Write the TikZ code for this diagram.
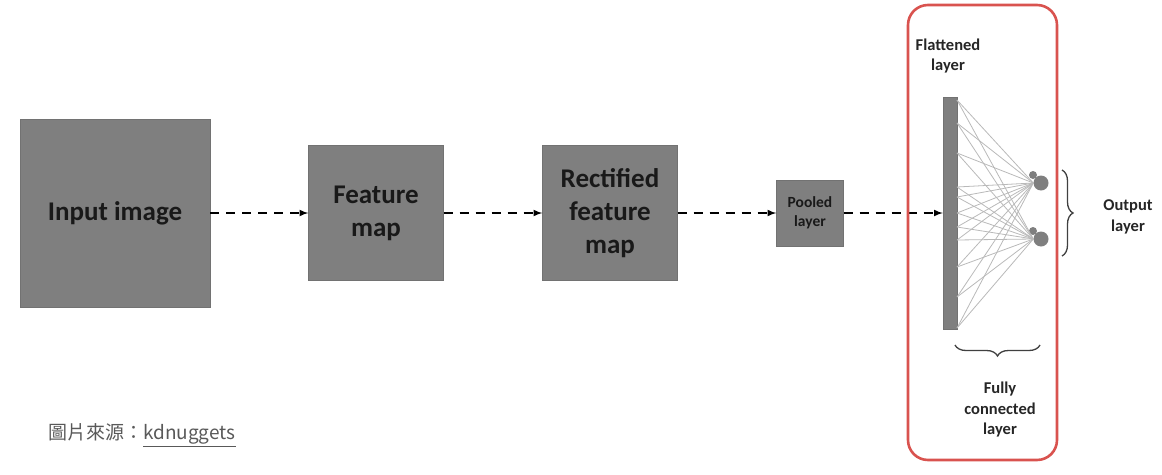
\documentclass[tikz,border=0pt]{standalone}
\usepackage{fontspec}
\usepackage[svgnames]{xcolor}
\setmainfont{Carlito}
\newfontfamily\cjkfont{Noto Sans CJK TC}
\usetikzlibrary{arrows.meta, decorations.pathreplacing}
\tikzset{>=latex}
\definecolor{boxgray}{HTML}{7F7F7F}
\definecolor{framered}{HTML}{D9534F}
\tikzset{
  block/.style={draw=boxgray!90!black, fill=boxgray, align=center, inner sep=0pt,
    font=\fontsize{27}{33}\selectfont\bfseries, text=black!90},
  flow/.style={->, dashed, line width=2pt, dash pattern=on 9pt off 7pt},
  wire/.style={gray!55, line width=0.8pt},
  brace/.style={decorate, decoration={brace, amplitude=11pt}, line width=1.3pt, black!75},
  note/.style={align=center, font=\fontsize{16.5}{20.5}\selectfont\bfseries, text=black!85}
}
\begin{document}
\begin{tikzpicture}[x=1pt, y=-1pt]
\useasboundingbox (0,0) rectangle (1162,474);
% blocks
\node[block, minimum width=190pt, minimum height=188pt] (input) at (115,213) {Input image};
\node[block, minimum width=135pt, minimum height=135pt] (feat) at (376,213) {Feature\\map};
\node[block, minimum width=135pt, minimum height=135pt] (rect) at (610,213) {Rectified\\feature\\map};
\node[block, minimum width=67pt, minimum height=66pt, font=\fontsize{15.5}{19}\selectfont\bfseries] (pool) at (810,213) {Pooled\\layer};
\node[block, minimum width=14pt, minimum height=232pt] (flat) at (950,213) {};
% arrows
\draw[flow] (input.east) -- (feat.west);
\draw[flow] (feat.east) -- (rect.west);
\draw[flow] (rect.east) -- (pool.west);
\draw[flow] (pool.east) -- (flat.west);
% output neurons
\node[circle, fill=boxgray, minimum size=15pt, inner sep=0pt] (out1) at (1041,183) {};
\node[circle, fill=boxgray, minimum size=15pt, inner sep=0pt] (out2) at (1041,239) {};
\fill[boxgray] (1033,175) circle (4pt) (1033,231) circle (4pt);
% fully connected wires
\foreach \y in {100,123,153,187,197,213,227,240,267,297,328}{
  \draw[wire] (957,\y) -- (out1.west);
  \draw[wire] (957,\y) -- (out2.west);
}
% braces
\coordinate (ob1) at (1062,170);
\coordinate (ob2) at (1062,256);
\draw[brace] (ob1) -- (ob2);
\node[note] (outlbl) at (1128,217) {Output\\layer};
\coordinate (fb1) at (1040,345);
\coordinate (fb2) at (955,345);
\draw[brace] (fb1) -- (fb2);
\node[note] (fclbl) at (1000,410) {Fully\\connected\\layer};
\node[note] (flatlbl) at (948,56) {Flattened\\layer};
% red frame
\draw[framered, line width=2.6pt, rounded corners=20pt] (908,5) rectangle (1057,460);
% caption
\node[anchor=west, inner sep=0pt, text=black!65, font=\cjkfont\fontsize{19}{21}\selectfont] (src) at (48,435)
  {圖片來源：\underline{kdnuggets}};
\end{tikzpicture}
\end{document}
